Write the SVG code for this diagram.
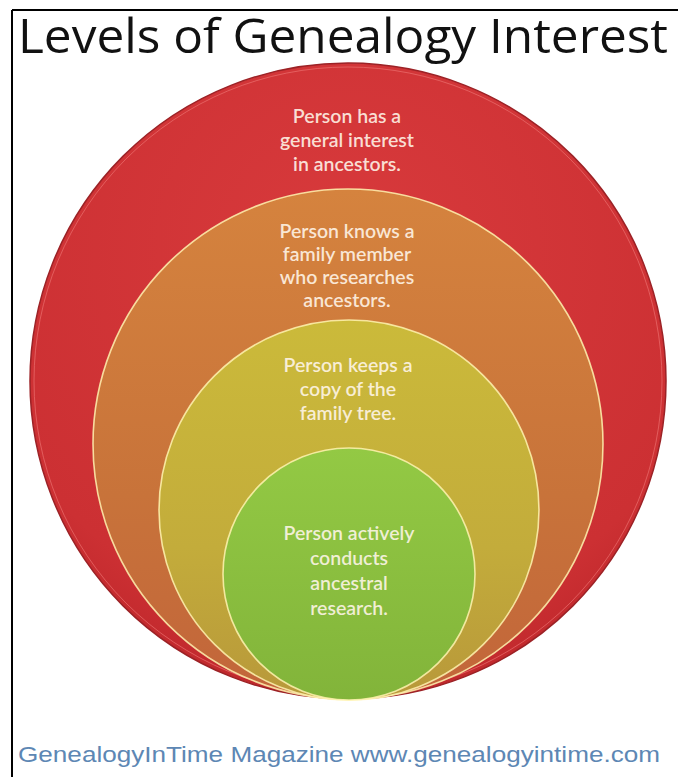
<svg xmlns="http://www.w3.org/2000/svg" width="678" height="777" viewBox="0 0 678 777">
<style>
.title{font-family:"Open Sans","Noto Sans","Liberation Sans",sans-serif;font-size:48px;fill:#111}
.lbl{font-family:Lato,"Open Sans","Liberation Sans",sans-serif;font-size:19.5px;font-weight:600;fill:#fff6ea;fill-opacity:0.88;text-anchor:middle}
.foot{font-family:"Liberation Sans",Arial,sans-serif;font-size:22px;fill:#5d87b4}
.rim{fill:none;stroke:#fff3b0;stroke-width:1.6;stroke-opacity:0.85}
</style>
<defs>
<radialGradient id="gRed" cx="0.5" cy="0.3" r="0.7">
<stop offset="0" stop-color="#d83a3c"/>
<stop offset="0.85" stop-color="#cc3033"/>
<stop offset="1" stop-color="#c0282c"/>
</radialGradient>
<linearGradient id="gOr" x1="0" y1="0" x2="0" y2="1">
<stop offset="0" stop-color="#d5833e"/>
<stop offset="0.6" stop-color="#c8733a"/>
<stop offset="1" stop-color="#c2653a"/>
</linearGradient>
<linearGradient id="gYe" x1="0" y1="0" x2="0" y2="1">
<stop offset="0" stop-color="#cbba3a"/>
<stop offset="0.6" stop-color="#c3ac3b"/>
<stop offset="1" stop-color="#b8983a"/>
</linearGradient>
<linearGradient id="gGr" x1="0" y1="0" x2="0" y2="1">
<stop offset="0" stop-color="#93c944"/>
<stop offset="1" stop-color="#82b43a"/>
</linearGradient>
</defs>
<g id="frame">
<line x1="12" y1="10" x2="678" y2="10" stroke="#000" stroke-width="2"/>
<line x1="12" y1="10" x2="12" y2="777" stroke="#000" stroke-width="2"/>
</g>
<g id="title"><text class="title" x="18" y="53" textLength="650" lengthAdjust="spacingAndGlyphs">Levels of Genealogy Interest</text></g>
<g id="level1">
<circle cx="348" cy="381" r="318" fill="url(#gRed)" stroke="#9c2226" stroke-width="1.5"/>
<circle cx="348" cy="381" r="314" fill="none" stroke="#f07a78" stroke-width="1" stroke-opacity="0.6"/>
<text class="lbl" x="347" y="123">Person has a</text>
<text class="lbl" x="347" y="147">general interest</text>
<text class="lbl" x="347" y="171">in ancestors.</text>
</g>
<g id="level2">
<circle cx="348" cy="444" r="255" fill="url(#gOr)"/>
<circle cx="348" cy="444" r="255" class="rim"/>
<text class="lbl" x="347" y="238">Person knows a</text>
<text class="lbl" x="347" y="261">family member</text>
<text class="lbl" x="347" y="284">who researches</text>
<text class="lbl" x="347" y="307">ancestors.</text>
</g>
<g id="level3">
<circle cx="349" cy="510" r="190" fill="url(#gYe)"/>
<circle cx="349" cy="510" r="190" class="rim"/>
<text class="lbl" x="348" y="372">Person keeps a</text>
<text class="lbl" x="348" y="396">copy of the</text>
<text class="lbl" x="348" y="420">family tree.</text>
</g>
<g id="level4">
<circle cx="349" cy="574" r="126" fill="url(#gGr)"/>
<circle cx="349" cy="574" r="126" class="rim"/>
<text class="lbl" x="349" y="540">Person actively</text>
<text class="lbl" x="349" y="565">conducts</text>
<text class="lbl" x="349" y="590">ancestral</text>
<text class="lbl" x="349" y="615">research.</text>
</g>
<g id="connectors"/>
<g id="footer"><text class="foot" x="18" y="762" textLength="642" lengthAdjust="spacingAndGlyphs">GenealogyInTime Magazine www.genealogyintime.com</text></g>
</svg>
